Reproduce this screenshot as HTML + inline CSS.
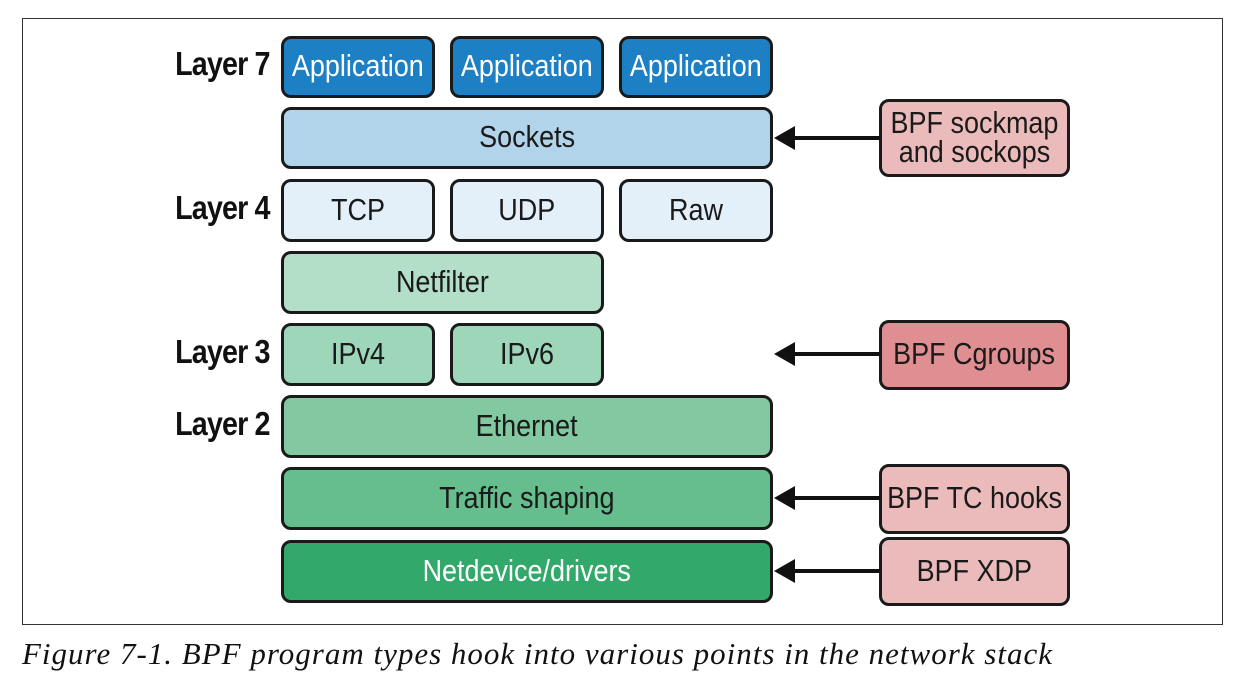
<!DOCTYPE html>
<html><head><style>
body{margin:0;width:1253px;height:688px;background:#fff;position:relative;overflow:hidden;font-family:"Liberation Sans",sans-serif;}
.frame{position:absolute;left:22px;top:18px;width:1199px;height:605px;border:1.5px solid #333;}
.b{position:absolute;box-sizing:border-box;border:3px solid #1a1a1a;border-radius:10px;display:flex;align-items:center;justify-content:center;font-size:31px;color:#1a1a1a;line-height:29px;text-align:center;padding-bottom:3px;}
.b span{display:inline-block;transform:scaleX(0.87);white-space:nowrap;}
.l{position:absolute;width:200px;left:70px;text-align:right;font-weight:bold;font-size:33px;color:#111;}
.l span{display:inline-block;transform:scaleX(0.87);transform-origin:right center;letter-spacing:-1px;}
.cap{position:absolute;left:22px;top:636px;font-family:"Liberation Serif",serif;font-style:italic;font-size:31px;letter-spacing:1px;color:#111;white-space:nowrap;}
</style></head><body>
<div class="frame"></div>
<div class="l" style="top:45px"><span>Layer 7</span></div>
<div class="l" style="top:189px"><span>Layer 4</span></div>
<div class="l" style="top:333px"><span>Layer 3</span></div>
<div class="l" style="top:405px"><span>Layer 2</span></div>

<div class="b" style="left:281px;top:36px;width:154px;height:62px;background:#1d7fc4;color:#fff"><span>Application</span></div>
<div class="b" style="left:450px;top:36px;width:154px;height:62px;background:#1d7fc4;color:#fff"><span>Application</span></div>
<div class="b" style="left:619px;top:36px;width:154px;height:62px;background:#1d7fc4;color:#fff"><span>Application</span></div>
<div class="b" style="left:281px;top:107px;width:492px;height:62px;background:#b1d4ea"><span>Sockets</span></div>
<div class="b" style="left:281px;top:179px;width:154px;height:63px;background:#e3f0f9"><span>TCP</span></div>
<div class="b" style="left:450px;top:179px;width:154px;height:63px;background:#e3f0f9"><span>UDP</span></div>
<div class="b" style="left:619px;top:179px;width:154px;height:63px;background:#e3f0f9"><span>Raw</span></div>
<div class="b" style="left:281px;top:251px;width:323px;height:63px;background:#b3dfc8"><span>Netfilter</span></div>
<div class="b" style="left:281px;top:323px;width:154px;height:63px;background:#9dd6b8"><span>IPv4</span></div>
<div class="b" style="left:450px;top:323px;width:154px;height:63px;background:#9dd6b8"><span>IPv6</span></div>
<div class="b" style="left:281px;top:395px;width:492px;height:63px;background:#82c9a2"><span>Ethernet</span></div>
<div class="b" style="left:281px;top:467px;width:492px;height:63px;background:#66bd8e"><span>Traffic shaping</span></div>
<div class="b" style="left:281px;top:540px;width:492px;height:63px;background:#32a86a;color:#fff"><span>Netdevice/drivers</span></div>

<div class="b" style="left:879px;top:99px;width:191px;height:78px;background:#ebbbbb"><span>BPF sockmap<br>and sockops</span></div>
<div class="b" style="left:879px;top:320px;width:191px;height:70px;background:#df8f92"><span>BPF Cgroups</span></div>
<div class="b" style="left:879px;top:464px;width:191px;height:70px;background:#ebbbbb"><span>BPF TC hooks</span></div>
<div class="b" style="left:879px;top:537px;width:191px;height:69px;background:#ebbbbb"><span>BPF XDP</span></div>

<svg style="position:absolute;left:0;top:0" width="1253" height="688">
<g stroke="#111" stroke-width="4" fill="#111">
<line x1="790" y1="138" x2="880" y2="138"/><polygon points="774,138 795,126 795,150" stroke="none"/>
<line x1="790" y1="354" x2="880" y2="354"/><polygon points="774,354 795,342 795,366" stroke="none"/>
<line x1="790" y1="498" x2="880" y2="498"/><polygon points="774,498 795,486 795,510" stroke="none"/>
<line x1="790" y1="571" x2="880" y2="571"/><polygon points="774,571 795,559 795,583" stroke="none"/>
</g></svg>
<div class="cap">Figure 7-1. BPF program types hook into various points in the network stack</div>
</body></html>
